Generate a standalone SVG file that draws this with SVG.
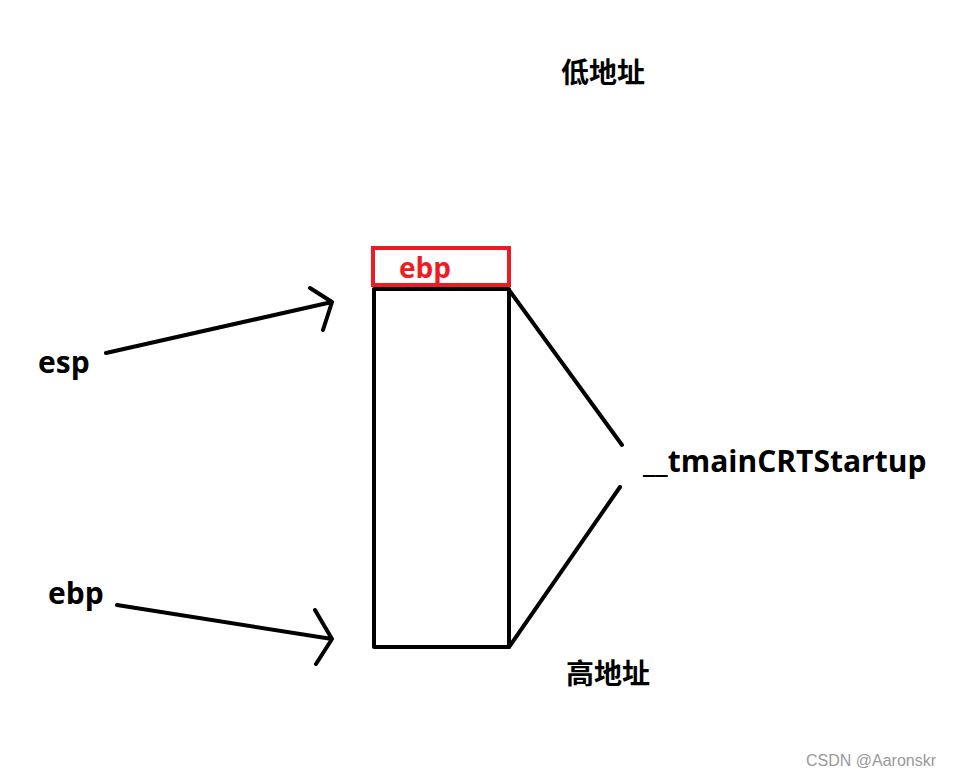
<svg xmlns="http://www.w3.org/2000/svg" width="975" height="778" viewBox="0 0 975 778">
<style>
.t{font-family:"Open Sans","Noto Sans CJK SC",sans-serif;font-weight:bold;fill:#000}
.ln{stroke:#000;stroke-width:4;fill:none;stroke-linecap:round;stroke-linejoin:round}
</style>
<rect width="975" height="778" fill="#fff"/>
<g id="low"><text class="t" x="561" y="83" font-size="28">低地址</text></g>
<g id="high"><text class="t" x="566" y="684" font-size="28">高地址</text></g>
<g id="ebpbox"><rect x="373" y="248" width="136" height="37" fill="none" stroke="#ed1c24" stroke-width="4"/>
<text class="t" x="399" y="278" font-size="28" style="fill:#ed1c24">ebp</text></g>
<g id="stack"><rect x="374" y="289" width="135" height="358" class="ln" stroke-linecap="butt"/></g>
<g id="esp"><text class="t" x="38" y="373" font-size="30">esp</text></g>
<g id="ebp"><text class="t" x="48" y="604" font-size="30">ebp</text></g>
<g id="tmain"><text class="t" x="643" y="472" font-size="30">__tmainCRTStartup</text></g>
<g id="connectors">
<path class="ln" d="M106,353 L332,302 M310,288 L332,302 L323,330"/>
<path class="ln" d="M117,605 L332,639 M315,610 L332,639 L316,664"/>
<path class="ln" d="M509,290 L622,445 M509,647 L620,487"/>
</g>
<text x="806" y="766" font-family="Liberation Sans,sans-serif" font-size="16" fill="#999">CSDN @Aaronskr</text>
</svg>
